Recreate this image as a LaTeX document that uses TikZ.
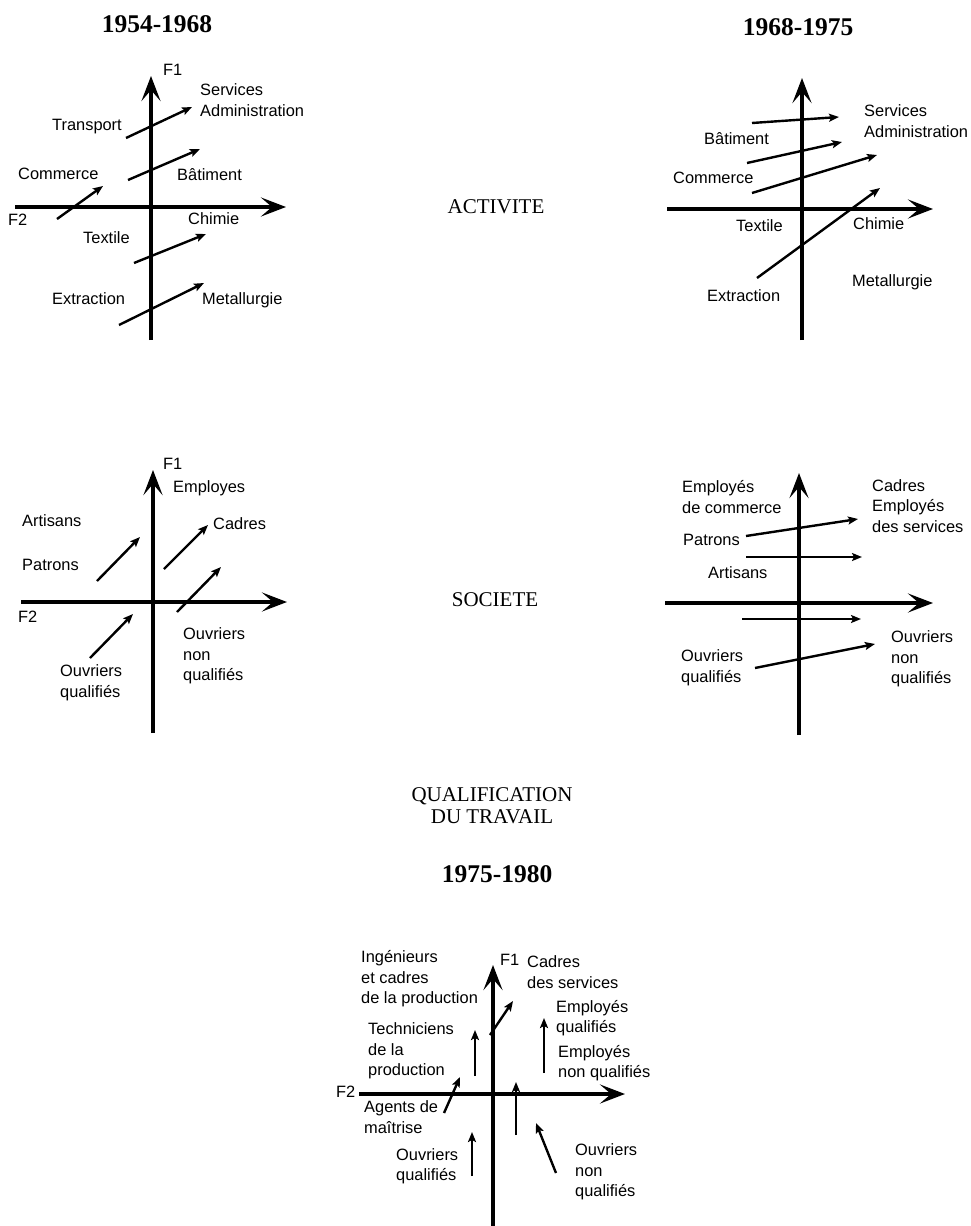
\documentclass[tikz,border=0pt]{standalone}
\usepackage{fontspec}
\setmainfont{Liberation Serif}
\setsansfont{Liberation Sans}
\usetikzlibrary{arrows.meta,positioning}

\tikzset{
  axisline/.style={line width=3.4pt, -{Stealth[length=25pt,width=19pt,inset=11pt]}},
  vec/.style={line width=2.4pt, -{Stealth[length=10pt,width=8pt,inset=2pt]}},
  lbl/.style={font=\sffamily\fontsize{16.4}{20.5}\selectfont, inner sep=0pt, anchor=west, align=left},
  yearlbl/.style={font=\bfseries\fontsize{25.5}{28}\selectfont, inner sep=0pt},
  themelbl/.style={font=\fontsize{21}{22}\selectfont, inner sep=0pt, align=center},
}

\begin{document}
\begin{tikzpicture}[x=1pt,y=-1pt]
    \useasboundingbox (0,0) rectangle (971,1226);

    % 1954-1968
    \node[yearlbl] (yearA) at (157,24) {1954-1968};
    \coordinate (Abot) at (151,340);
    \coordinate (Atop) at (151,76);
    \coordinate (Aleft) at (15,207);
    \coordinate (Aright) at (286,207);
    \draw[axisline] (Abot) -- (Atop);
    \draw[axisline] (Aleft) -- (Aright);

    \node[lbl] (AF1)  at (163,70)  {F1};
    \node[lbl] (AF2)  at (8,220)   {F2};
    \node[lbl] (Aserv) at (200,100) {Services\\Administration};
    \node[lbl] (Atra) at (52,127)  {Transport};
    \node[lbl] (Acom) at (18,174)  {Commerce};
    \node[lbl] (Abat) at (177,175) {Bâtiment};
    \node[lbl] (Achi) at (188,219) {Chimie};
    \node[lbl] (Atex) at (83,238)  {Textile};
    \node[lbl] (Aext) at (52,299)  {Extraction};
    \node[lbl] (Amet) at (202,300) {Metallurgie};

    \coordinate (A1s) at (126,138); \coordinate (A1e) at (192,107);
    \coordinate (A2s) at (128,180); \coordinate (A2e) at (200,149);
    \coordinate (A3s) at (57,219);  \coordinate (A3e) at (103,186);
    \coordinate (A4s) at (134,263); \coordinate (A4e) at (206,234);
    \coordinate (A5s) at (119,325); \coordinate (A5e) at (204,283);
    \path[vec]
    (A1s) edge (A1e)
    (A2s) edge (A2e)
    (A3s) edge (A3e)
    (A4s) edge (A4e)
    (A5s) edge (A5e);

    % 1968-1975
    \node[yearlbl] (yearB) at (798,27) {1968-1975};
    \coordinate (Bbot) at (802,340);
    \coordinate (Btop) at (802,78);
    \coordinate (Bleft) at (667,209);
    \coordinate (Bright) at (933,209);
    \draw[axisline] (Bbot) -- (Btop);
    \draw[axisline] (Bleft) -- (Bright);

    \node[lbl] (Bserv) at (864,121) {Services\\Administration};
    \node[lbl] (Bbat) at (704,139) {Bâtiment};
    \node[lbl] (Bcom) at (673,178) {Commerce};
    \node[lbl] (Btex) at (736,226) {Textile};
    \node[lbl] (Bchi) at (853,224) {Chimie};
    \node[lbl] (Bmet) at (852,282) {Metallurgie};
    \node[lbl] (Bext) at (707,296) {Extraction};

    \coordinate (B1s) at (752,123); \coordinate (B1e) at (839,117);
    \coordinate (B2s) at (747,163); \coordinate (B2e) at (842,142);
    \coordinate (B3s) at (752,193); \coordinate (B3e) at (877,155);
    \coordinate (B4s) at (757,278); \coordinate (B4e) at (880,188);
    \path[vec]
    (B1s) edge (B1e)
    (B2s) edge (B2e)
    (B3s) edge (B3e)
    (B4s) edge (B4e);

    \node[themelbl] (activ) at (496,207) {ACTIVITE};

    % societe, first period
    \coordinate (Cbot) at (153,733);
    \coordinate (Ctop) at (153,470);
    \coordinate (Cleft) at (21,602);
    \coordinate (Cright) at (287,602);
    \draw[axisline] (Cbot) -- (Ctop);
    \draw[axisline] (Cleft) -- (Cright);

    \node[lbl] (CF1)  at (163,464) {F1};
    \node[lbl] (CF2)  at (18,617)  {F2};
    \node[lbl] (Cemp) at (173,488) {Employes};
    \node[lbl] (Cart) at (22,521)  {Artisans};
    \node[lbl] (Ccad) at (213,524) {Cadres};
    \node[lbl] (Cpat) at (22,565)  {Patrons};
    \node[lbl] (Conq) at (183,656) {Ouvriers\\non\\qualifiés};
    \node[lbl] (Coq)  at (60,683)  {Ouvriers\\qualifiés};

    \coordinate (C1s) at (97,581);  \coordinate (C1e) at (140,537);
    \coordinate (C2s) at (164,569); \coordinate (C2e) at (208,525);
    \coordinate (C3s) at (177,612); \coordinate (C3e) at (221,567);
    \coordinate (C4s) at (90,658);  \coordinate (C4e) at (133,614);
    \path[vec]
    (C1s) edge (C1e)
    (C2s) edge (C2e)
    (C3s) edge (C3e)
    (C4s) edge (C4e);

    \node[themelbl] (soc) at (495,600) {SOCIETE};

    % societe, second period
    \coordinate (Dbot) at (799,735);
    \coordinate (Dtop) at (799,473);
    \coordinate (Dleft) at (665,603);
    \coordinate (Dright) at (933,603);
    \draw[axisline] (Dbot) -- (Dtop);
    \draw[axisline] (Dleft) -- (Dright);

    \node[lbl] (Dempc) at (682,497) {Employés\\de commerce};
    \node[lbl] (Dcad)  at (872,506) {Cadres\\Employés\\des services};
    \node[lbl] (Dpat)  at (683,540) {Patrons};
    \node[lbl] (Dart)  at (708,573) {Artisans};
    \node[lbl] (Doq)   at (681,668) {Ouvriers\\qualifiés};
    \node[lbl] (Donq)  at (891,659) {Ouvriers\\non\\qualifiés};

    \coordinate (D1s) at (746,536); \coordinate (D1e) at (858,519);
    \coordinate (D2s) at (746,557); \coordinate (D2e) at (862,557);
    \coordinate (D3s) at (742,619); \coordinate (D3e) at (861,619);
    \coordinate (D4s) at (755,668); \coordinate (D4e) at (875,644);
    \path[vec]
    (D1s) edge (D1e)
    (D2s) edge (D2e)
    (D3s) edge (D3e)
    (D4s) edge (D4e);

    \node[themelbl] (qualif) at (492,806) {QUALIFICATION\\DU TRAVAIL};

    % 1975-1980
    \node[yearlbl] (yearE) at (497,874) {1975-1980};
    \coordinate (Ebot) at (493,1226);
    \coordinate (Etop) at (493,965);
    \coordinate (Eleft) at (359,1094);
    \coordinate (Eright) at (625,1094);
    \draw[axisline] (Ebot) -- (Etop);
    \draw[axisline] (Eleft) -- (Eright);

    \node[lbl] (EF2)  at (336,1092) {F2};
    \node[lbl] (EF1)  at (500,960)  {F1};
    \node[lbl] (Eing) at (361,979)  {Ingénieurs\\et cadres\\de la production};
    \node[lbl] (Ecad) at (527,972)  {Cadres\\des services};
    \node[lbl] (Eeq)  at (556,1018) {Employés\\qualifiés};
    \node[lbl] (Eenq) at (558,1063) {Employés\\non qualifiés};
    \node[lbl] (Etec) at (368,1051) {Techniciens\\de la\\production};
    \node[lbl] (Eag)  at (364,1117) {Agents de\\maîtrise};
    \node[lbl] (Eoq)  at (396,1166) {Ouvriers\\qualifiés};
    \node[lbl] (Eonq) at (575,1172) {Ouvriers\\non\\qualifiés};

    \coordinate (E1s) at (490,1035); \coordinate (E1e) at (513,1001);
    \coordinate (E2s) at (475,1076); \coordinate (E2e) at (475,1030);
    \coordinate (E3s) at (444,1113); \coordinate (E3e) at (460,1077);
    \coordinate (E4s) at (544,1073); \coordinate (E4e) at (544,1018);
    \coordinate (E5s) at (516,1135); \coordinate (E5e) at (516,1082);
    \coordinate (E6s) at (472,1176); \coordinate (E6e) at (472,1132);
    \coordinate (E7s) at (556,1173); \coordinate (E7e) at (536,1123);
    \path[vec]
    (E1s) edge (E1e)
    (E2s) edge (E2e)
    (E3s) edge (E3e)
    (E4s) edge (E4e)
    (E5s) edge (E5e)
    (E6s) edge (E6e)
    (E7s) edge (E7e);
\end{tikzpicture}
\end{document}
